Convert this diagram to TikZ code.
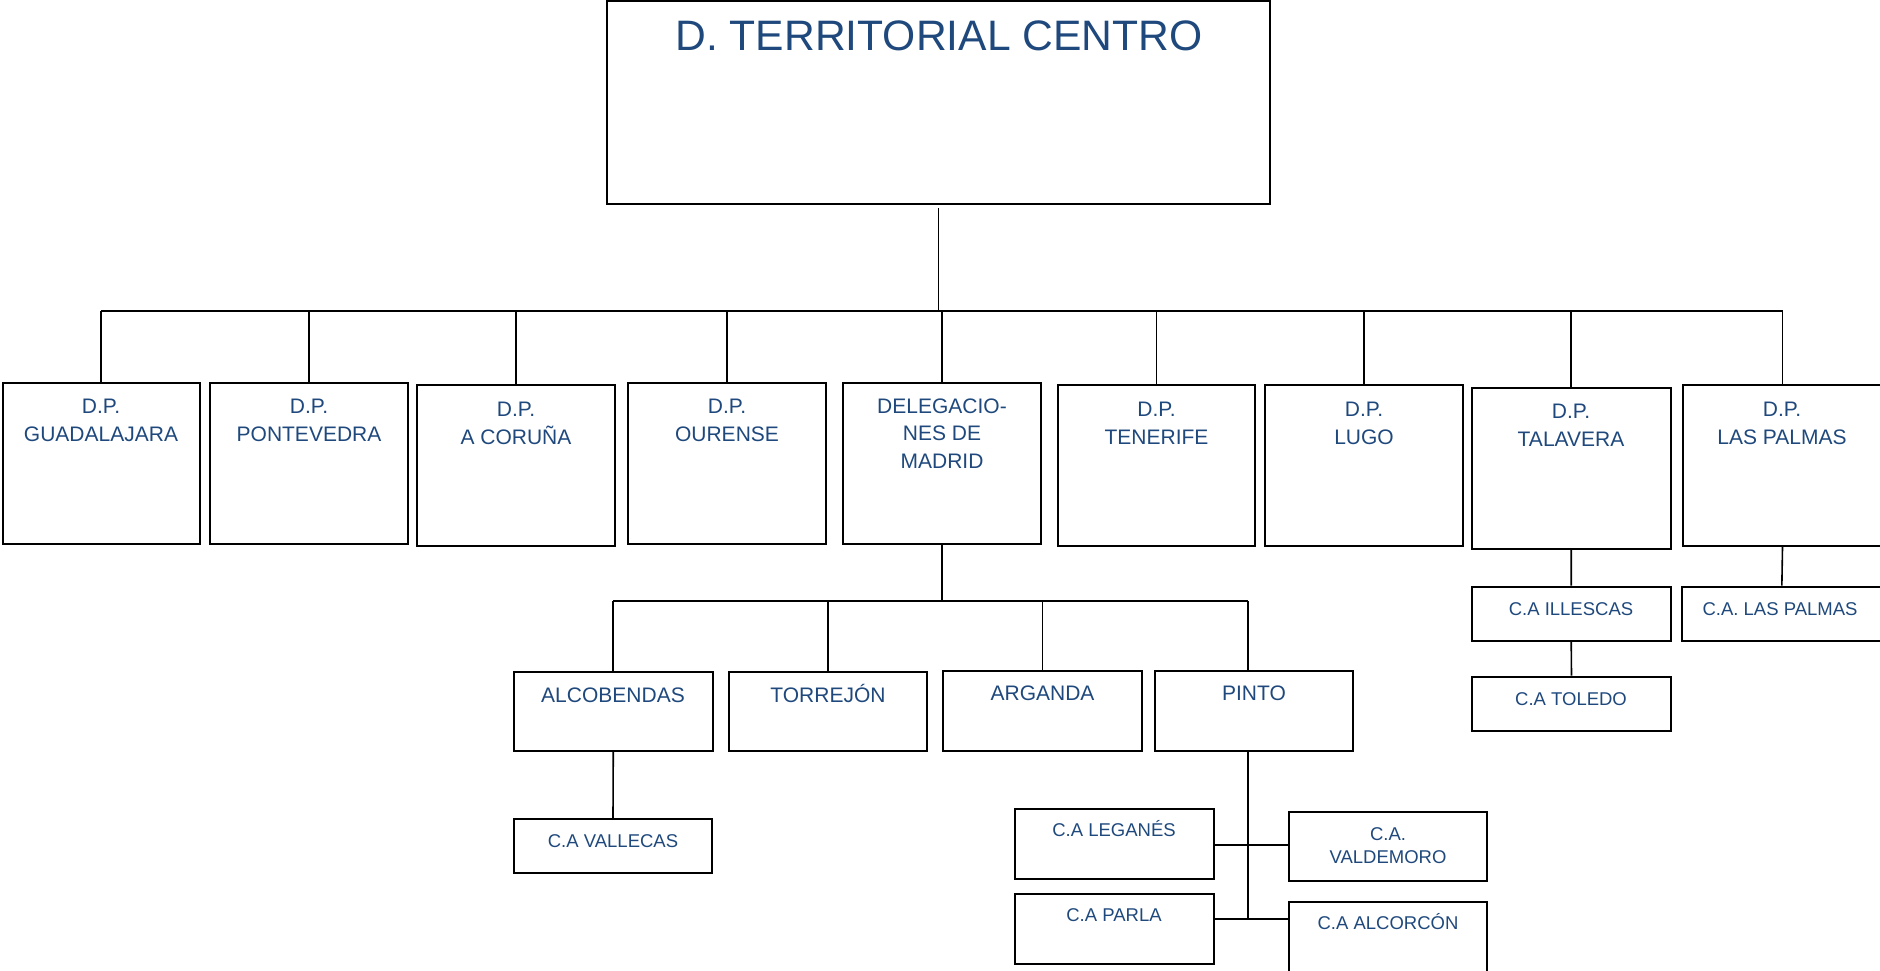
\documentclass[tikz,border=0pt]{standalone}
\usepackage{fontspec}
\setmainfont{Liberation Sans}
\definecolor{txtblue}{HTML}{1F497D}
\tikzset{
  box/.style={draw=black, line width=2pt, inner sep=0pt, fill=white},
  lbl/.style={text=txtblue, align=center, inner sep=0pt, anchor=base, font=\fontsize{21}{27.7}\selectfont},
  slbl/.style={lbl, font=\fontsize{18.5}{22.6}\selectfont},
  conn/.style={line width=1.6pt, draw=black},
}
\newcommand{\mkbox}[5]{\node[box, minimum width={(#4)-(#2)}, minimum height={(#5)-(#3)}] (#1) at ({((#2)+(#4))/2},{((#3)+(#5))/2}) {};}
\begin{document}
\begin{tikzpicture}[x=1pt,y=-1pt]
\useasboundingbox (0,0) rectangle (1880,971);
% boxes
\mkbox{top}{607}{1.5}{1270}{204}
\mkbox{gua}{2.5}{382.5}{200}{543.5}
\mkbox{pon}{210}{382.5}{408}{543.5}
\mkbox{cor}{417}{385}{615}{546}
\mkbox{our}{628}{382.5}{826}{543.5}
\mkbox{del}{843}{382.5}{1041}{543.5}
\mkbox{ten}{1058}{385}{1255}{546}
\mkbox{lug}{1265}{385}{1463}{546}
\mkbox{tal}{1472}{387.5}{1670.5}{548.5}
\mkbox{lpa}{1683}{385}{1882}{546}
\mkbox{alc}{514}{672}{712.5}{751}
\mkbox{tor}{728.5}{672}{927}{751}
\mkbox{arg}{943}{671}{1142}{751}
\mkbox{pin}{1155}{671}{1353}{751}
\mkbox{vall}{514}{819}{712}{873}
\mkbox{leg}{1015}{809}{1213.7}{878.7}
\mkbox{par}{1015}{894}{1213.7}{963.7}
\mkbox{val}{1288.7}{812}{1487.3}{881.3}
\mkbox{alcor}{1288.7}{902}{1487.3}{974}
\mkbox{ill}{1471.7}{586.7}{1670.7}{640.7}
\mkbox{tol}{1472}{676.7}{1671}{730.7}
\mkbox{clp}{1681.7}{586.7}{1882}{640.7}
% connectors
\coordinate (bus) at (0,311);
\draw[conn] ([yshift=-3pt]top.south) -- (top.south |- bus);
\draw[conn] (gua.north |- bus) -- (lpa.north |- bus);
\foreach \n in {gua,pon,cor,our,del,ten,lug,tal,lpa}
  \draw[conn] (\n.north |- bus) -- (\n.north);
\coordinate (sbus) at (0,601);
\coordinate (pj) at (1248,601);
\draw[conn] (del.south) -- (del.south |- sbus);
\draw[conn] (alc.north |- sbus) -- (pj);
\foreach \n in {alc,tor,arg}
  \draw[conn] (\n.north |- sbus) -- (\n.north);
\draw[conn] (pj) -- (pj |- pin.north);
\draw[conn] (alc.south) -- (vall.north);
\coordinate (pb) at (1248,919);
\coordinate (h1) at (0,845);
\draw[conn] (pj |- pin.south) -- (pb);
\draw[conn] (leg.east |- h1) -- (val.west |- h1);
\draw[conn] (par.east |- pb) -- (alcor.west |- pb);
\draw[conn] (tal.south) -- (ill.north);
\draw[conn] (ill.south) -- (tol.north);
\draw[conn] (lpa.south) -- (clp.north);
% labels (anchor = baseline of the last line)
\node[lbl, font=\fontsize{42.6}{50}\selectfont] (top-t) at (939,51) {D. TERRITORIAL CENTRO};
\node[lbl] (gua-t) at (101,441) {D.P.\\GUADALAJARA};
\node[lbl] (pon-t) at (309,441) {D.P.\\PONTEVEDRA};
\node[lbl] (cor-t) at (516,444) {D.P.\\A CORUÑA};
\node[lbl] (our-t) at (727,441) {D.P.\\OURENSE};
\node[lbl] (del-t) at (942,468.5) {DELEGACIO-\\NES DE\\MADRID};
\node[lbl] (ten-t) at (1156.5,444) {D.P.\\TENERIFE};
\node[lbl] (lug-t) at (1364,444) {D.P.\\LUGO};
\node[lbl] (tal-t) at (1571,446.5) {D.P.\\TALAVERA};
\node[lbl] (lpa-t) at (1782,444.5) {D.P.\\LAS PALMAS};
\node[lbl] (alc-t) at (613,702) {ALCOBENDAS};
\node[lbl] (tor-t) at (828,702) {TORREJÓN};
\node[lbl] (arg-t) at (1042.5,700.7) {ARGANDA};
\node[lbl] (pin-t) at (1254,700.7) {PINTO};
\node[slbl] (vall-t) at (613,847) {C.A VALLECAS};
\node[slbl] (leg-t) at (1114,836.7) {C.A LEGANÉS};
\node[slbl] (par-t) at (1114,921.7) {C.A PARLA};
\node[slbl] (val-t) at (1388,863.3) {C.A.\\VALDEMORO};
\node[slbl] (alcor-t) at (1388,929.3) {C.A ALCORCÓN};
\node[slbl] (ill-t) at (1571,615) {C.A ILLESCAS};
\node[slbl] (tol-t) at (1571,705) {C.A TOLEDO};
\node[slbl] (clp-t) at (1780,615) {C.A. LAS PALMAS};
\end{tikzpicture}
\end{document}
